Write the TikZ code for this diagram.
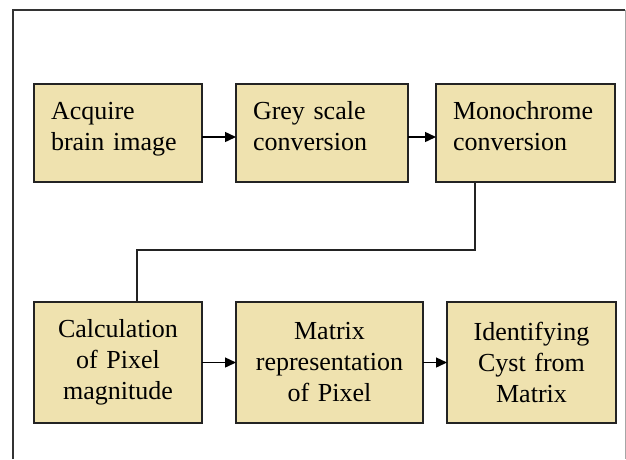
\documentclass[tikz,border=0pt]{standalone}
\usepackage{fontspec}
\setmainfont{Liberation Serif}
\usepackage{xcolor}
\usetikzlibrary{positioning,calc,arrows.meta}

\definecolor{boxfill}{RGB}{239,226,175}
\definecolor{boxline}{RGB}{35,35,35}

\begin{document}
\begin{tikzpicture}[
    x=1pt, y=-1pt,
    node distance=0pt,
    outer sep=0pt,
    stage/.style={draw=boxline, fill=boxfill, line width=1.4pt, rectangle, inner xsep=17pt, inner ysep=0pt, font=\fontsize{26}{31}\selectfont},
    toprow/.style={stage, minimum height=98pt, align=left, text height=18pt, text depth=46pt},
    lowrow/.style={stage, minimum height=121pt, align=center},
    flow/.style={draw=black, line width=1.4pt, -{Triangle[length=11pt,width=10pt]}}
]
    \useasboundingbox (0,0) rectangle (626,459);
    % outer frame
    \draw[line width=1.3pt, draw=black!80] (13,459) -- (13,10) -- (625,10);
    \draw[line width=0.8pt, draw=black!35] (625,10) -- (625,459);

    % first row
    \node [toprow, anchor=north west, text width=134pt] at (34,84) (acquire) {Acquire\\brain image};
    \node [toprow, text width=138pt, right=34pt of acquire] (grey) {Grey scale\\conversion};
    \node [toprow, text width=145pt, right=28pt of grey] (mono) {Monochrome\\conversion};

    % second row
    \node [lowrow, anchor=north west, text width=134pt] at (34,302) (calc) {Calculation\\of Pixel\\magnitude};
    \node [lowrow, text width=153pt, right=34pt of calc] (matrix) {Matrix\\representation\\of Pixel};
    \node [lowrow, text width=135pt, right=24pt of matrix] (cyst) {Identifying\\Cyst from\\Matrix};

    % connectors
    \draw[flow] ([yshift=-4pt]acquire.east) -- ([yshift=-4pt]grey.west);
    \draw[flow] ([yshift=-4pt]grey.east) -- ([yshift=-4pt]mono.west);
    \draw[line width=1.4pt, draw=boxline] ([xshift=39pt]mono.south west) -- ++(0,68) -| ([xshift=103pt]calc.north west);
    \draw[flow] (calc) -- (matrix);
    \draw[flow] (matrix) -- (cyst);
\end{tikzpicture}
\end{document}
